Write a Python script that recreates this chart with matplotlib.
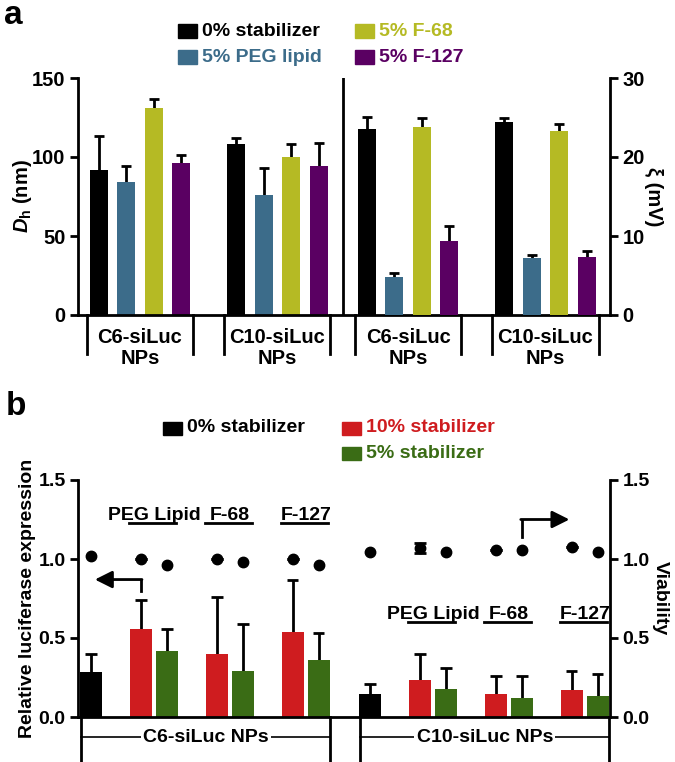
import matplotlib
matplotlib.use('Agg')
import matplotlib.pyplot as plt
from matplotlib.patches import Rectangle
import numpy as np

plt.rcParams['font.family'] = ['Liberation Sans', 'DejaVu Sans']
plt.rcParams['font.weight'] = 'bold'
plt.rcParams['mathtext.fontset'] = 'custom'
plt.rcParams['mathtext.it'] = 'Liberation Sans:italic:bold'
plt.rcParams['mathtext.rm'] = 'Liberation Sans:bold'
plt.rcParams['axes.linewidth'] = 2

# ---- panel a data ----
stab_a = ['0% stabilizer', '5% PEG lipid', '5% F-68', '5% F-127']
colors_a = ['#000000', '#3c6c8a', '#b5ba24', '#5a0062']
groups_a = ['C6-siLuc\nNPs', 'C10-siLuc\nNPs']
dh_mean = [[92, 84, 131, 96], [108, 76, 100, 94]]
dh_sd = [[21, 10, 6, 5], [4, 17, 8, 15]]
zeta_mean = [[23.5, 4.8, 23.8, 9.4], [24.4, 7.2, 23.3, 7.4]]
zeta_sd = [[1.6, 0.5, 1.2, 1.9], [0.5, 0.4, 0.9, 0.7]]

# ---- panel b data ----
groups_b = ['C6-siLuc NPs', 'C10-siLuc NPs']
stab_names = ['PEG Lipid', 'F-68', 'F-127']
legend_b = ['0% stabilizer', '10% stabilizer', '5% stabilizer']
colors_b = ['#000000', '#cf1c1f', '#3a6c15']
ctrl_expr = [0.285, 0.145]
ctrl_expr_sd = [0.115, 0.065]
s10_expr = [[0.56, 0.40, 0.54], [0.235, 0.145, 0.17]]
s10_expr_sd = [[0.18, 0.36, 0.33], [0.165, 0.115, 0.12]]
s5_expr = [[0.42, 0.29, 0.36], [0.175, 0.12, 0.13]]
s5_expr_sd = [[0.14, 0.30, 0.17], [0.135, 0.14, 0.14]]
ctrl_via = [1.02, 1.045]
s10_via = [[1.0, 1.0, 1.0], [1.07, 1.055, 1.075]]
s5_via = [[0.96, 0.98, 0.96], [1.045, 1.055, 1.045]]
s10_via_sd = [[0.0, 0.0, 0.0], [0.03, 0.0, 0.0]]

W, H = 675, 762
fig = plt.figure(figsize=(W/100, H/100), dpi=100)
axa = fig.add_axes([78/W, 1-315/H, 532/W, 237/H])
axa2 = axa.twinx()
axb = fig.add_axes([78/W, 1-717/H, 532/W, 237/H])
axb2 = axb.twinx()


def err_up(ax, x, y, e, cw):
    ax.vlines(x, y, y+e, color='k', lw=2, zorder=1)
    ax.hlines(y+e, x-cw, x+cw, color='k', lw=2, zorder=1)


def style(ax, right=False, size=14):
    for s in ['top', 'bottom', 'left', 'right']:
        ax.spines[s].set_visible(False)
    ax.spines['right' if right else 'left'].set_visible(True)
    ax.tick_params(axis='y', length=6, width=2, labelsize=size, pad=3)
    ax.set_xticks([])


def legend_entry(x, y, color, label):
    fig.patches.append(Rectangle((x/W, 1-(y+6.5)/H), 19/W, 13/H,
                                 transform=fig.transFigure, color=color))
    fig.text((x+24)/W, 1-y/H, label, color=color, fontsize=14, va='center')


# ---------------- panel a ----------------
starts = [0.75, 5.75, 10.5, 15.5]
bw = 0.65
for gi in range(2):
    for k in range(4):
        x = starts[gi] + k
        axa.bar(x, dh_mean[gi][k], bw, color=colors_a[k], zorder=2)
        err_up(axa, x, dh_mean[gi][k], dh_sd[gi][k], 0.18)
        x2 = starts[gi+2] + k
        axa2.bar(x2, zeta_mean[gi][k], bw, color=colors_a[k], zorder=2)
        err_up(axa2, x2, zeta_mean[gi][k], zeta_sd[gi][k], 0.18)

axa.set_xlim(0, 532/27.5)
axa.set_ylim(0, 150)
axa2.set_ylim(0, 30)
axa.set_yticks([0, 50, 100, 150])
axa2.set_yticks([0, 10, 20, 30])
style(axa, size=14.5)
style(axa2, right=True, size=14.5)
axa.spines['bottom'].set_visible(True)
axa.axvline(265/27.5, color='k', lw=2)

for gi in range(4):
    c = starts[gi] + 1.5
    for xe in (c-1.93, c+1.93):
        axa.plot([xe, xe], [0, -25], color='k', lw=2, clip_on=False)
    axa.text(c, -21, groups_a[gi % 2], ha='center', va='center', fontsize=14.5,
             linespacing=1.1)

axa.text(-0.105, 0.5, r'$D_\mathrm{h}$ (nm)', transform=axa.transAxes,
         rotation=90, ha='center', va='center', fontsize=14.5)
axa.text(1.081, 0.5, 'ξ (mV)', transform=axa.transAxes,
         rotation=270, ha='center', va='center', fontsize=14.5)

for (x, y), col, lab in zip([(178, 31), (178, 57), (355, 31), (355, 57)],
                            colors_a, stab_a):
    legend_entry(x, y, col, lab)

# ---------------- panel b ----------------
ctrl_x = [0.5, 11.23]
bwb = 0.85
for gi in range(2):
    cx = ctrl_x[gi]
    axb.bar(cx, ctrl_expr[gi], bwb, color=colors_b[0], zorder=2)
    err_up(axb, cx, ctrl_expr[gi], ctrl_expr_sd[gi], 0.22)
    axb2.plot(cx, ctrl_via[gi], 'o', color='k', ms=7.5)
    for k in range(3):
        rx = cx + 1.92 + 2.92*k
        gx = rx + 1
        axb.bar(rx, s10_expr[gi][k], bwb, color=colors_b[1], zorder=2)
        err_up(axb, rx, s10_expr[gi][k], s10_expr_sd[gi][k], 0.22)
        axb.bar(gx, s5_expr[gi][k], bwb, color=colors_b[2], zorder=2)
        err_up(axb, gx, s5_expr[gi][k], s5_expr_sd[gi][k], 0.22)
        axb2.errorbar(rx, s10_via[gi][k], yerr=s10_via_sd[gi][k], fmt='o',
                      color='k', ms=7.5, capsize=4, elinewidth=2, capthick=2)
        axb2.plot(gx, s5_via[gi][k], 'o', color='k', ms=7.5)
    # bracket below axis
    x0 = cx - 0.38
    x1 = cx + 1.92 + 2.92*2 + 1 + 0.45
    for xe in (x0, x1):
        axb.plot([xe, xe], [0, -0.32], color='k', lw=2, clip_on=False)
    axb.plot([x0, x1], [-0.127, -0.127], color='k', lw=1.2, clip_on=False)
    axb.text((x0+x1)/2, -0.127, groups_b[gi], ha='center', va='center',
             fontsize=14, bbox=dict(facecolor='white', edgecolor='none', pad=1.5))

line_y = [1.23, 0.60]
for gi in range(2):
    for k in range(3):
        rx = ctrl_x[gi] + 1.92 + 2.92*k
        gx = rx + 1
        axb.text((rx+gx)/2, line_y[gi] + 0.02, stab_names[k], ha='center',
                 va='baseline', fontsize=14, zorder=1)
        axb.plot([rx-0.45, gx+0.35], [line_y[gi]]*2, color='k', lw=2, zorder=2)

# arrows
xa = ctrl_x[0] + 1.92
axb.plot([xa, xa], [0.80, 0.87], color='k', lw=2)
axb.annotate('', xy=(0.65, 0.87), xytext=(xa+0.04, 0.87),
             arrowprops=dict(arrowstyle='-|>', lw=2, color='k', mutation_scale=26,
                             shrinkA=0, shrinkB=0))
xb = ctrl_x[1] + 1.92 + 2.92 + 1
axb.plot([xb, xb], [1.14, 1.25], color='k', lw=2)
axb.annotate('', xy=(18.9, 1.25), xytext=(xb-0.04, 1.25),
             arrowprops=dict(arrowstyle='-|>', lw=2, color='k', mutation_scale=26,
                             shrinkA=0, shrinkB=0))

axb.set_xlim(0, 532/26)
axb.set_ylim(0, 1.5)
axb2.set_ylim(0, 1.5)
for ax in (axb, axb2):
    ax.set_yticks([0, 0.5, 1.0, 1.5])
    ax.set_yticklabels(['0.0', '0.5', '1.0', '1.5'])
style(axb)
style(axb2, right=True)
axb.spines['bottom'].set_visible(True)

axb.text(-0.094, 0.5, 'Relative luciferase expression', transform=axb.transAxes,
         rotation=90, ha='center', va='center', fontsize=14)
axb.text(1.094, 0.5, 'Viability', transform=axb.transAxes,
         rotation=270, ha='center', va='center', fontsize=14)

for (x, y), col, lab in zip([(163, 428), (342, 428), (342, 453)],
                            colors_b, legend_b):
    legend_entry(x, y, col, lab)

fig.text(4/W, 1, 'a', fontsize=24, va='top')
fig.text(6/W, 1-391/H, 'b', fontsize=24, va='top')

fig.savefig('out.png', dpi=100)
